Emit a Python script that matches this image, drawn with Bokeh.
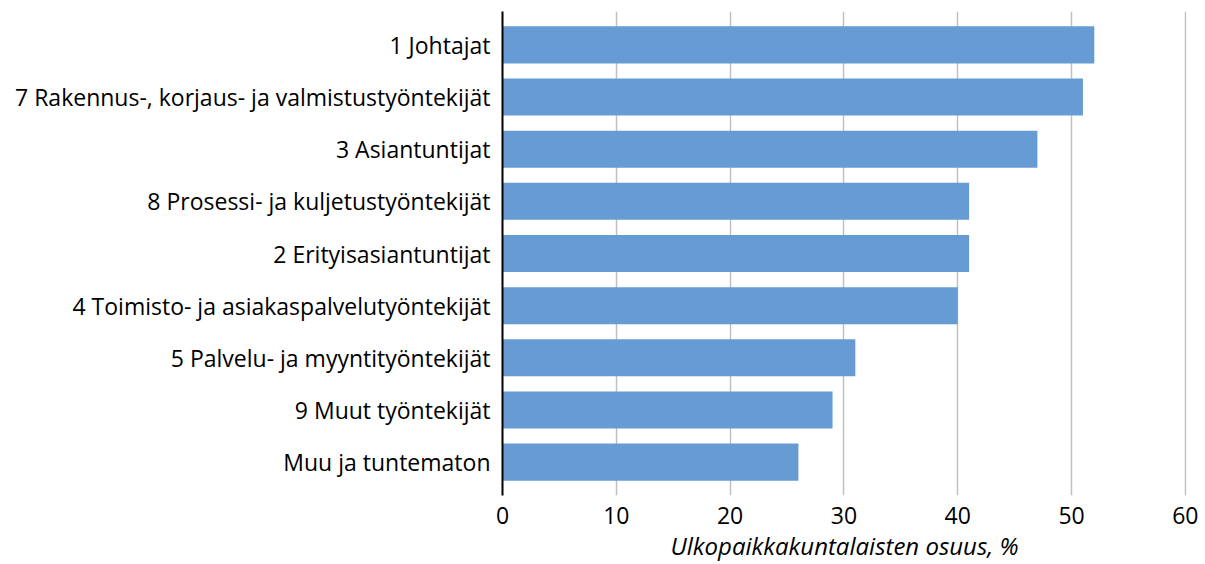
from bokeh.plotting import figure
from bokeh.models import FixedTicker, Range1d, FactorRange
from bokeh.embed import file_html
from bokeh.resources import INLINE

categories = [
    "1 Johtajat",
    "7 Rakennus-, korjaus- ja valmistustyöntekijät",
    "3 Asiantuntijat",
    "8 Prosessi- ja kuljetustyöntekijät",
    "2 Erityisasiantuntijat",
    "4 Toimisto- ja asiakaspalvelutyöntekijät",
    "5 Palvelu- ja myyntityöntekijät",
    "9 Muut työntekijät",
    "Muu ja tuntematon",
]
values = [52, 51, 47, 41, 41, 40, 31, 29, 26]
x_ticks = [0, 10, 20, 30, 40, 50, 60]
x_label = "Ulkopaikkakuntalaisten osuus, %"

FONT = "Open Sans"

yr = FactorRange(factors=list(reversed(categories)), range_padding=0.14,
                 range_padding_units="absolute")
p = figure(width=1201, height=564, y_range=yr, x_range=Range1d(0, 60.1),
           output_backend="svg", toolbar_location=None,
           min_border_left=502, min_border_top=11, min_border_right=15,
           min_border_bottom=68)
p.outline_line_color = None

p.hbar(y=categories, right=values, left=0, height=0.71, color="#669bd3",
       line_color=None)

p.xgrid.ticker = FixedTicker(ticks=x_ticks)
p.xgrid.grid_line_color = "#c0c0c0"
p.xgrid.grid_line_width = 1.5
p.ygrid.grid_line_color = None

p.xaxis.ticker = FixedTicker(ticks=x_ticks)
p.xaxis.axis_line_color = None
p.xaxis.major_tick_line_color = None
p.xaxis.minor_tick_line_color = None
p.xaxis.major_tick_out = 0
p.xaxis.major_tick_in = 0
p.xaxis.major_label_standoff = 11
p.xaxis.major_label_text_font = FONT
p.xaxis.major_label_text_font_size = "23px"
p.xaxis.major_label_text_color = "#000000"
p.xaxis.axis_label = x_label
p.xaxis.axis_label_text_font = FONT
p.xaxis.axis_label_text_font_style = "italic"
p.xaxis.axis_label_text_font_size = "24px"
p.xaxis.axis_label_text_color = "#000000"
p.xaxis.axis_label_standoff = 2

p.yaxis.axis_line_color = "#000000"
p.yaxis.axis_line_width = 2
p.yaxis.major_tick_line_color = None
p.yaxis.major_tick_out = 0
p.yaxis.major_tick_in = 0
p.yaxis.major_label_standoff = 12
p.yaxis.major_label_text_font = FONT
p.yaxis.major_label_text_font_size = "23px"
p.yaxis.major_label_text_color = "#000000"

open("out.html", "w").write(file_html(p, INLINE))
